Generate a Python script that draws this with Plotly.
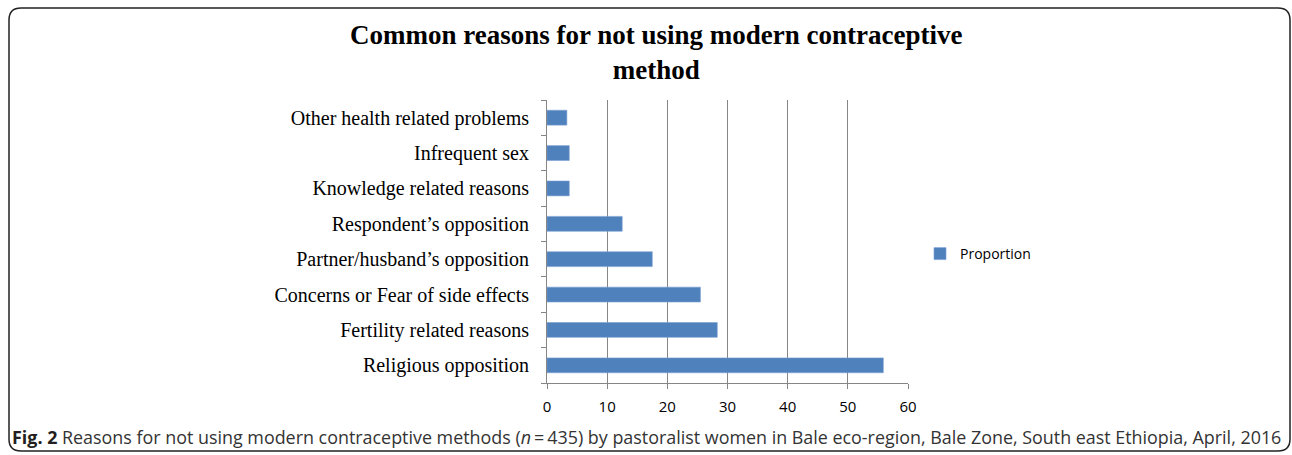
import plotly.graph_objects as go

categories = [
    "Religious opposition",
    "Fertility related reasons",
    "Concerns or Fear of side effects",
    "Partner/husband\u2019s opposition",
    "Respondent\u2019s opposition",
    "Knowledge related reasons",
    "Infrequent sex",
    "Other health related problems",
]
proportion = [55.9, 28.3, 25.5, 17.5, 12.5, 3.7, 3.7, 3.3]
x_ticks = [0, 10, 20, 30, 40, 50, 60]

W, H = 1292, 455
L, R, T, B = 547, 908, 100, 383  # plot area in pixels


def px(x):
    return (x - L) / (R - L)


def py(y):
    return (B - y) / (B - T)


fig = go.Figure()
fig.add_trace(go.Bar(
    y=categories, x=proportion, orientation="h", name="Proportion",
    marker=dict(color="#4F81BD", line=dict(color="#7aa0d4", width=0.6)),
))

# rounded frame around figure
x0, x1, y0, y1, r = 9, 1290, 8, 451, 12
rx = r / (R - L)
ry = r / (B - T)
path = (f"M {px(x0)},{py(y0) - ry} Q {px(x0)},{py(y0)} {px(x0) + rx},{py(y0)} "
        f"L {px(x1) - rx},{py(y0)} Q {px(x1)},{py(y0)} {px(x1)},{py(y0) - ry} "
        f"L {px(x1)},{py(y1) + ry} Q {px(x1)},{py(y1)} {px(x1) - rx},{py(y1)} "
        f"L {px(x0) + rx},{py(y1)} Q {px(x0)},{py(y1)} {px(x0)},{py(y1) + ry} Z")
fig.add_shape(type="path", xref="paper", yref="paper", path=path,
              line=dict(color="#222222", width=1.5), layer="below")

# title
fig.add_annotation(
    xref="paper", yref="paper", x=px(656), y=py(53), xanchor="center", yanchor="middle",
    showarrow=False, align="center",
    text="<b>Common reasons for not using modern contraceptive<br>method</b>",
    font=dict(family="Liberation Serif", size=27, color="black"),
)

# caption
fig.add_annotation(
    xref="paper", yref="paper", x=px(10), y=py(437), xanchor="left", yanchor="middle",
    showarrow=False,
    text=("<b>Fig. 2</b> <span style='color:#333333'>Reasons for not using modern contraceptive methods (<i>n</i>\u2009=\u2009435) "
          "by pastoralist women in Bale eco-region, Bale Zone, South east Ethiopia, April, 2016</span>"),
    font=dict(family="Open Sans", size=17.9, color="#231f20"),
)

fig.update_layout(
    width=W, height=H,
    margin=dict(l=L, r=W - R, t=T, b=H - B, pad=0),
    paper_bgcolor="white", plot_bgcolor="white",
    bargap=0.58,
    showlegend=True,
    legend=dict(x=px(920), y=py(254), xanchor="left", yanchor="middle",
                font=dict(family="Open Sans", size=14, color="black"),
                bgcolor="rgba(0,0,0,0)"),
    xaxis=dict(
        range=[0, 60], tickvals=x_ticks, showgrid=True, gridcolor="#868686", gridwidth=1,
        showline=True, linecolor="#868686", linewidth=1, ticks="outside", ticklen=5,
        tickcolor="#868686", zeroline=False,
        tickfont=dict(family="Open Sans", size=15, color="black"),
        ticklabelstandoff=5,
    ),
    yaxis=dict(
        categoryorder="array", categoryarray=categories,
        showline=True, linecolor="#868686", linewidth=1, ticks="outside", ticklen=5,
        tickcolor="#868686", tickson="boundaries", showgrid=False,
        tickfont=dict(family="Liberation Serif", size=20, color="black"),
        ticklabelstandoff=13,
    ),
)

fig.write_html("out.html")
